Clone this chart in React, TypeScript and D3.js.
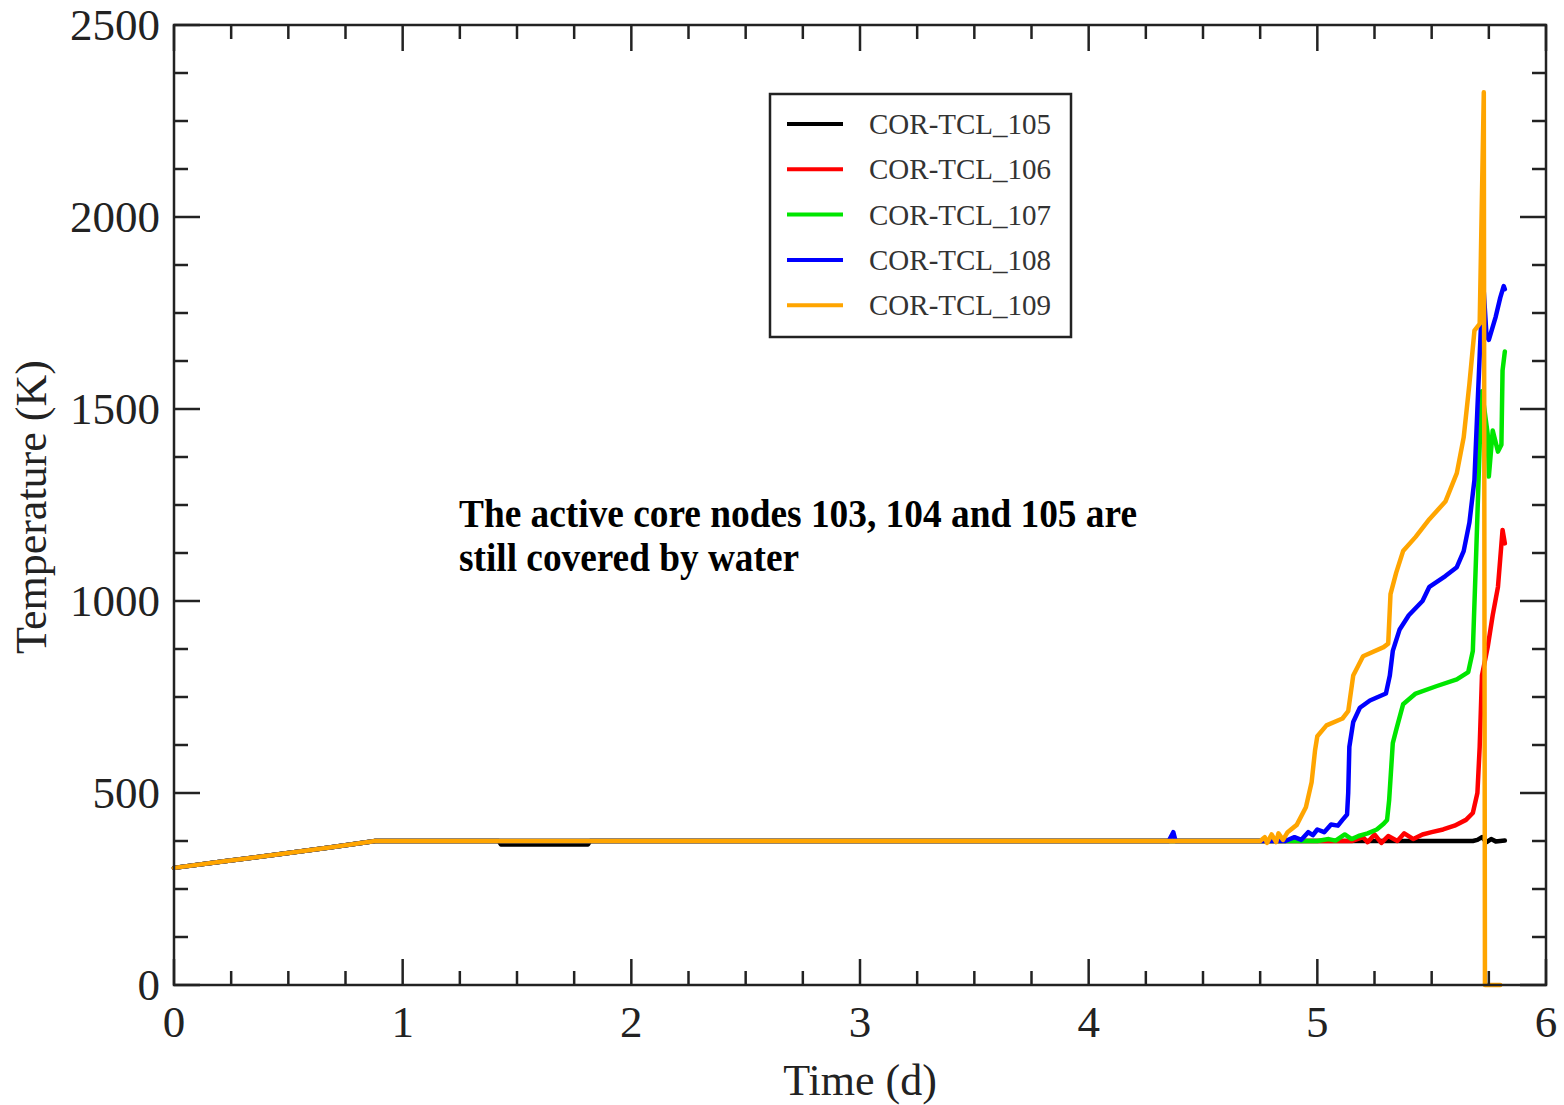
import React from 'react'
import * as d3 from 'd3'

const W = 1564
const H = 1105

const frame = { left: 174, right: 1546, top: 25, bottom: 985 }

const ticks = {
  majorLen: 26,
  minorLen: 14,
}

const serif = '"Liberation Serif", "Times New Roman", serif'

const xMajorTicks = [0, 1, 2, 3, 4, 5, 6]
const yMajorTicks = [0, 500, 1000, 1500, 2000, 2500]

const seriesNames = ['COR-TCL_105', 'COR-TCL_106', 'COR-TCL_107', 'COR-TCL_108', 'COR-TCL_109']
const seriesColors = ['#000000', '#ff0000', '#00e600', '#0000ff', '#ffa500']

// [time (d), temperature (K)]
const commonRamp = [
  [0, 305],
  [0.22, 322],
  [0.45, 340],
  [0.68, 358],
  [0.88, 375],
]

const tcl105 = [
  ...commonRamp,
  [1.42, 375],
  [1.43, 366],
  [1.6, 366],
  [1.81, 366],
  [1.82, 375],
  [5.68, 375],
  [5.7, 378],
  [5.72, 385],
  [5.74, 372],
  [5.76, 380],
  [5.78, 374],
  [5.82, 376],
]

const tcl106 = [
  ...commonRamp,
  [5.15, 375],
  [5.2, 385],
  [5.22, 372],
  [5.25, 392],
  [5.28, 370],
  [5.31, 388],
  [5.35, 375],
  [5.38, 395],
  [5.42, 380],
  [5.46, 392],
  [5.5, 398],
  [5.55, 405],
  [5.6, 415],
  [5.65, 430],
  [5.68, 448],
  [5.7, 500],
  [5.71, 620],
  [5.72, 806],
  [5.745, 880],
  [5.767, 963],
  [5.79, 1037],
  [5.8, 1111],
  [5.81, 1185],
  [5.82, 1150],
]

const tcl107 = [
  ...commonRamp,
  [5.0, 375],
  [5.05, 380],
  [5.08, 376],
  [5.12, 392],
  [5.15, 380],
  [5.18, 388],
  [5.22, 395],
  [5.26, 405],
  [5.29, 420],
  [5.305, 430],
  [5.314, 481],
  [5.324, 574],
  [5.33, 630],
  [5.346, 667],
  [5.375, 731],
  [5.43, 759],
  [5.52, 778],
  [5.61, 796],
  [5.66, 815],
  [5.68, 870],
  [5.695, 1130],
  [5.71, 1407],
  [5.72, 1546],
  [5.745, 1435],
  [5.75, 1324],
  [5.767, 1444],
  [5.79, 1389],
  [5.805, 1407],
  [5.81, 1600],
  [5.82, 1650],
]

const tcl108 = [
  ...commonRamp,
  [4.35, 375],
  [4.37, 398],
  [4.38, 375],
  [4.86, 375],
  [4.9, 385],
  [4.93, 378],
  [4.96, 398],
  [4.98, 390],
  [5.0, 405],
  [5.03, 398],
  [5.06, 418],
  [5.09, 415],
  [5.11, 430],
  [5.13, 444],
  [5.135, 500],
  [5.14, 620],
  [5.157, 685],
  [5.186, 722],
  [5.23, 741],
  [5.3, 759],
  [5.317, 806],
  [5.33, 870],
  [5.36, 926],
  [5.4, 963],
  [5.46, 1000],
  [5.49, 1037],
  [5.56, 1065],
  [5.61, 1088],
  [5.64, 1130],
  [5.665, 1204],
  [5.687, 1315],
  [5.7, 1500],
  [5.71, 1639],
  [5.72, 1778],
  [5.728, 1805],
  [5.74, 1690],
  [5.75, 1680],
  [5.78, 1740],
  [5.8, 1790],
  [5.815, 1820],
  [5.82, 1812],
]

const tcl109 = [
  ...commonRamp,
  [4.75, 375],
  [4.77, 385],
  [4.78, 370],
  [4.8, 392],
  [4.82, 372],
  [4.83, 395],
  [4.85, 378],
  [4.87, 398],
  [4.91, 417],
  [4.95, 463],
  [4.975, 528],
  [4.99, 611],
  [5.0, 648],
  [5.04, 676],
  [5.11, 694],
  [5.135, 713],
  [5.157, 806],
  [5.2, 856],
  [5.29, 880],
  [5.31, 889],
  [5.32, 1018],
  [5.345, 1074],
  [5.375, 1130],
  [5.43, 1167],
  [5.49, 1213],
  [5.56, 1259],
  [5.61, 1333],
  [5.64, 1426],
  [5.665, 1565],
  [5.687, 1704],
  [5.71, 1722],
  [5.728, 2325],
  [5.733, 0],
  [5.8, 0],
]

const seriesData = [tcl105, tcl106, tcl107, tcl108, tcl109]

const annotationLines = ['The active core nodes 103, 104 and 105 are', 'still covered by water']

export default function App() {
  const x = d3.scaleLinear().domain([0, 6]).range([frame.left, frame.right])
  const y = d3.scaleLinear().domain([0, 2500]).range([frame.bottom, frame.top])

  const line = d3
    .line<number[]>()
    .x((d) => x(d[0]))
    .y((d) => y(d[1]))

  const xMinor = d3.range(0, 6.001, 0.25).filter((v) => Math.abs(v - Math.round(v)) > 1e-6)
  const yMinor = d3.range(0, 2500.1, 125).filter((v) => v % 500 !== 0)

  const legend = { x: 770, y: 94, w: 301, h: 243, rowStart: 124, rowStep: 45.3 }

  return (
    <svg
      width={W}
      height={H}
      style={{ position: 'absolute', left: 0, top: 0, display: 'block', background: '#fff' }}
    >
      {/* data */}
      <g fill="none" strokeWidth={4.5} strokeLinejoin="round" strokeLinecap="round">
        {seriesData.map((d, i) => (
          <path key={seriesNames[i]} d={line(d) || ''} stroke={seriesColors[i]} />
        ))}
      </g>

      {/* frame */}
      <rect
        x={frame.left}
        y={frame.top}
        width={frame.right - frame.left}
        height={frame.bottom - frame.top}
        fill="none"
        stroke="#222"
        strokeWidth={2.5}
      />

      {/* ticks on all four sides */}
      <g stroke="#222" strokeWidth={2.5}>
        {xMajorTicks.map((t) => (
          <g key={'xM' + t}>
            <line x1={x(t)} x2={x(t)} y1={frame.bottom} y2={frame.bottom - ticks.majorLen} />
            <line x1={x(t)} x2={x(t)} y1={frame.top} y2={frame.top + ticks.majorLen} />
          </g>
        ))}
        {xMinor.map((t) => (
          <g key={'xm' + t}>
            <line x1={x(t)} x2={x(t)} y1={frame.bottom} y2={frame.bottom - ticks.minorLen} />
            <line x1={x(t)} x2={x(t)} y1={frame.top} y2={frame.top + ticks.minorLen} />
          </g>
        ))}
        {yMajorTicks.map((t) => (
          <g key={'yM' + t}>
            <line x1={frame.left} x2={frame.left + ticks.majorLen} y1={y(t)} y2={y(t)} />
            <line x1={frame.right} x2={frame.right - ticks.majorLen} y1={y(t)} y2={y(t)} />
          </g>
        ))}
        {yMinor.map((t) => (
          <g key={'ym' + t}>
            <line x1={frame.left} x2={frame.left + ticks.minorLen} y1={y(t)} y2={y(t)} />
            <line x1={frame.right} x2={frame.right - ticks.minorLen} y1={y(t)} y2={y(t)} />
          </g>
        ))}
      </g>

      {/* tick labels */}
      <g fontFamily={serif} fontSize={45} fill="#222">
        {xMajorTicks.map((t) => (
          <text key={'xl' + t} x={x(t)} y={1037} textAnchor="middle">
            {t}
          </text>
        ))}
        {yMajorTicks.map((t) => (
          <text key={'yl' + t} x={160} y={y(t) + 15} textAnchor="end">
            {t}
          </text>
        ))}
      </g>

      {/* axis titles */}
      <text x={860} y={1095} textAnchor="middle" fontFamily={serif} fontSize={44} fill="#222">
        Time (d)
      </text>
      <text
        transform={`translate(46, 507) rotate(-90)`}
        textAnchor="middle"
        fontFamily={serif}
        fontSize={44}
        fill="#222"
      >
        Temperature (K)
      </text>

      {/* legend */}
      <rect
        x={legend.x}
        y={legend.y}
        width={legend.w}
        height={legend.h}
        fill="#fff"
        stroke="#222"
        strokeWidth={2.5}
      />
      {seriesNames.map((name, i) => {
        const ry = legend.rowStart + i * legend.rowStep
        return (
          <g key={'lg' + name}>
            <line x1={787} x2={843} y1={ry} y2={ry} stroke={seriesColors[i]} strokeWidth={4} />
            <text x={869} y={ry + 10} fontFamily={serif} fontSize={29} fill="#333">
              {name}
            </text>
          </g>
        )
      })}

      {/* annotation */}
      <g fontFamily={serif} fontWeight="bold" fontSize={40} fill="#000">
        <text x={459} y={527} textLength={678} lengthAdjust="spacingAndGlyphs">
          {annotationLines[0]}
        </text>
        <text x={459} y={571} textLength={340} lengthAdjust="spacingAndGlyphs">
          {annotationLines[1]}
        </text>
      </g>
    </svg>
  )
}
